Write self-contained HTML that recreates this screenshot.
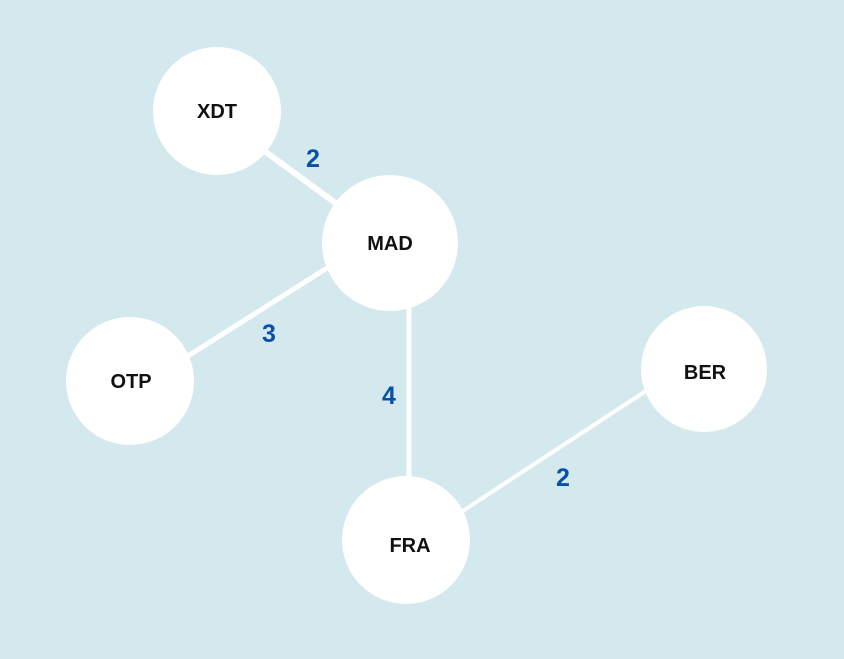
<!DOCTYPE html>
<html><head><meta charset="utf-8"><style>
html,body{margin:0;padding:0;background:#d3e9ed;}
svg{display:block}
</style></head><body>
<svg width="844" height="659" viewBox="0 0 844 659" xmlns="http://www.w3.org/2000/svg">
<rect width="844" height="659" fill="#d3e9ed"/>
<g stroke="#fff" fill="none">
<line x1="255" y1="144" x2="345" y2="210" stroke-width="6"/>
<line x1="335" y1="263" x2="180" y2="361" stroke-width="5"/>
<line x1="409" y1="300" x2="409" y2="485" stroke-width="5"/>
<line x1="655" y1="385" x2="455" y2="516" stroke-width="4"/>
</g>
<g fill="#fff">
<circle cx="217" cy="111" r="64"/>
<circle cx="390" cy="243" r="68"/>
<circle cx="130" cy="381" r="64"/>
<circle cx="704" cy="369" r="63"/>
<circle cx="406" cy="540" r="64"/>
</g>
<g font-family="Liberation Sans, sans-serif" font-weight="bold" font-size="20" fill="#111" text-anchor="middle">
<text x="217" y="118">XDT</text>
<text x="390" y="250">MAD</text>
<text x="131" y="388">OTP</text>
<text x="705" y="379">BER</text>
<text x="410" y="552">FRA</text>
</g>
<g font-family="Liberation Sans, sans-serif" font-weight="bold" font-size="25" fill="#0a50a8" text-anchor="middle">
<text x="313" y="167">2</text>
<text x="269" y="342">3</text>
<text x="389" y="404">4</text>
<text x="563" y="486">2</text>
</g>
</svg>
</body></html>
